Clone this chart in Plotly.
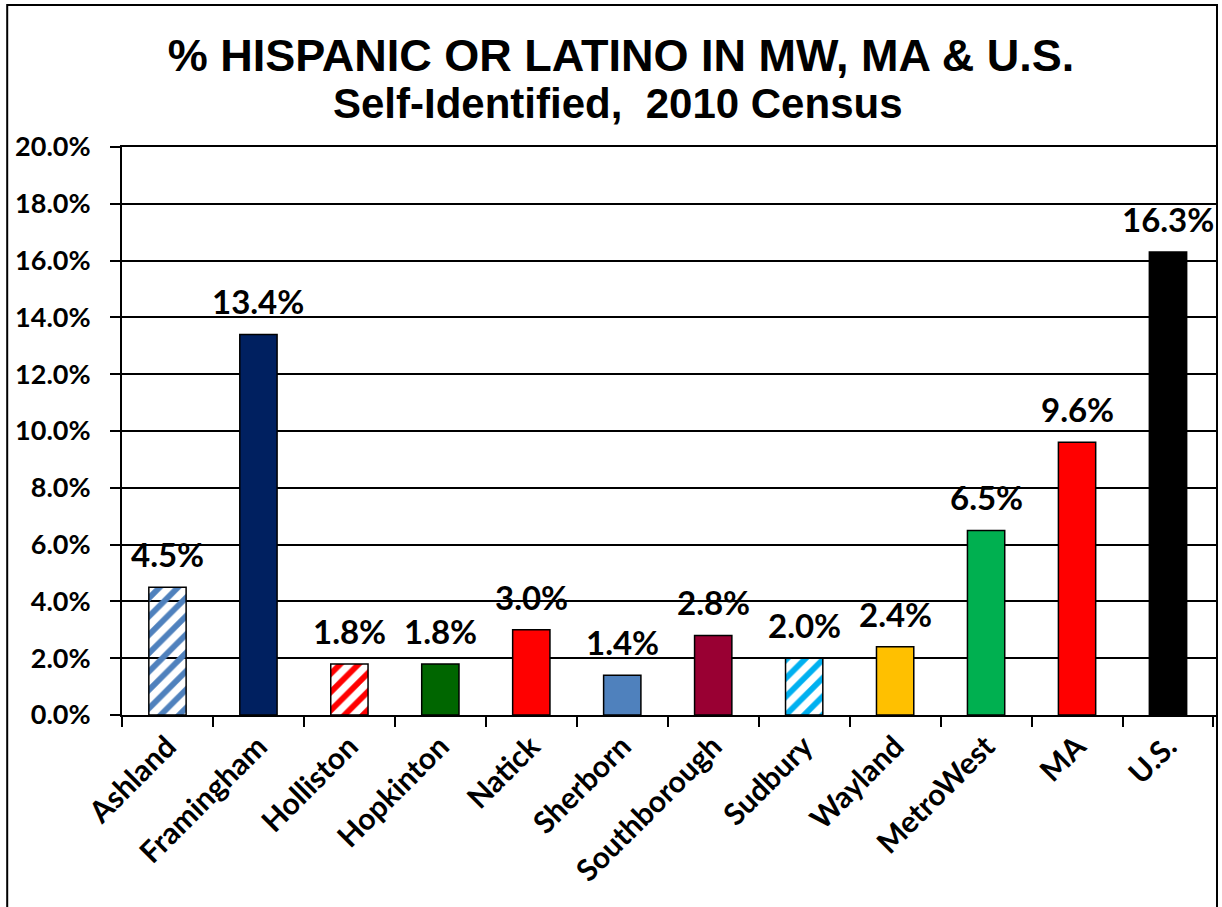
import plotly.graph_objects as go

categories = ["Ashland", "Framingham", "Holliston", "Hopkinton", "Natick", "Sherborn",
              "Southborough", "Sudbury", "Wayland", "MetroWest", "MA", "U.S."]
values = [4.5, 13.4, 1.8, 1.8, 3.0, 1.4, 2.8, 2.0, 2.4, 6.5, 9.6, 16.3]
colors = ["#4F81BD", "#002060", "#FF0000", "#006600", "#FF0000", "#4F81BD",
          "#990033", "#00B0F0", "#FFC000", "#00B050", "#FF0000", "#000000"]
patterns = ["/", "", "/", "", "", "", "", "/", "", "", "", ""]
y_ticks = [0, 2, 4, 6, 8, 10, 12, 14, 16, 18, 20]

W, H = 1222, 907
L, R, T, B = 122, 4, 147, 192
pw, ph = W - L - R, H - T - B

label_font = "Lato, 'Open Sans', sans-serif"
title_font = "Liberation Sans, Arial, sans-serif"

fig = go.Figure(go.Bar(
    x=categories, y=values, width=0.41,
    marker=dict(color=colors, line=dict(color="black", width=1.5),
                pattern=dict(shape=patterns, fgcolor="white", bgcolor=colors,
                             size=13, solidity=0.45, fillmode="replace")),
    hoverinfo="skip",
))

for c, v in zip(categories, values):
    fig.add_annotation(x=c, y=v, text=f"<b>{v:.1f}%</b>", showarrow=False,
                       yanchor="bottom", yshift=11,
                       font=dict(family=label_font, size=33, color="black"))

# subtitle line
fig.add_annotation(xref="paper", yref="paper", x=(619 - L) / pw, y=(H - B - 104) / ph,
                   xanchor="center", yanchor="middle", showarrow=False,
                   text="<b>Self-Identified,  2010 Census</b>",
                   font=dict(family=title_font, size=42, color="black"))

fig.update_layout(
    width=W, height=H,
    margin=dict(l=L, r=R, t=T, b=B),
    paper_bgcolor="white", plot_bgcolor="white",
    showlegend=False,
    title=dict(
        text="<b>% HISPANIC OR LATINO IN MW, MA & U.S.</b>",
        x=621 / W, xanchor="center", y=1 - 55 / H, yanchor="middle",
        font=dict(family=title_font, size=45, color="black"),
    ),
    xaxis=dict(
        type="category", tickson="boundaries", ticks="outside", ticklen=10,
        tickwidth=2, tickcolor="black", tickangle=-45,
        showline=True, linecolor="black", linewidth=2, mirror=True,
        showgrid=False,
        tickfont=dict(family=label_font, size=30, color="black"),
    ),
    yaxis=dict(
        range=[0, 20], tickvals=y_ticks, ticktext=[f"<b>{t:.1f}%</b>" for t in y_ticks],
        ticks="outside", ticklen=10, tickwidth=2, tickcolor="black",
        ticklabelstandoff=14,
        showline=True, linecolor="black", linewidth=2, mirror=True,
        showgrid=True, gridcolor="black", gridwidth=2, zeroline=False,
        tickfont=dict(family=label_font, size=27, color="black"),
    ),
)
fig.update_xaxes(ticktext=[f"<b>{c}</b>" for c in categories], tickvals=categories)

# outer chart border
fig.add_shape(type="rect", xref="paper", yref="paper",
              x0=(7 - L) / pw, x1=(1219 - L) / pw,
              y0=(H - B - 930) / ph, y1=(H - B - 5) / ph,
              line=dict(color="black", width=2), fillcolor="rgba(0,0,0,0)", layer="above")

fig.write_html("out.html", config={"displayModeBar": False},
               post_script="document.body.style.margin='0px';document.body.style.overflow='hidden';")
